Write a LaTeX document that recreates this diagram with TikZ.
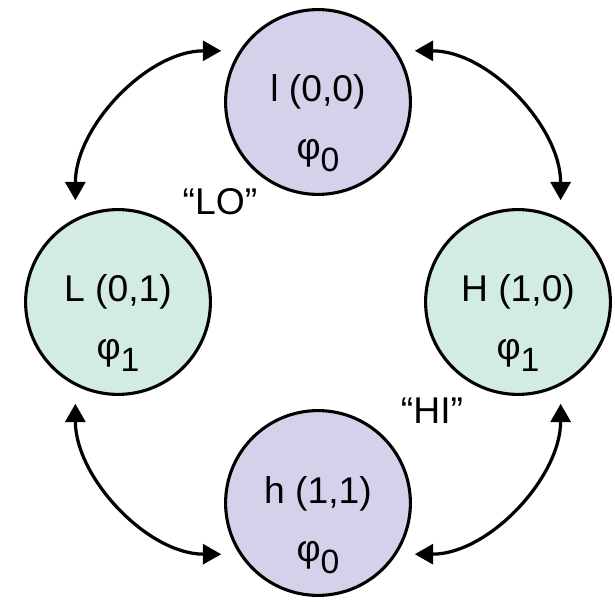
\documentclass[tikz,border=0pt]{standalone}
\usepackage{fontspec}
\setmainfont{Liberation Sans}
\usetikzlibrary{arrows.meta}
\definecolor{lilla}{RGB}{214,208,234}
\definecolor{verdino}{RGB}{210,236,225}
\newcommand{\pedice}[1]{\raisebox{-0.3cm}{\fontsize{24}{24}\selectfont #1}}
\begin{document}
\begin{tikzpicture}[every node/.style={font=\fontsize{26.5}{30}\selectfont},
		stato/.style={circle, draw, line width=2.2pt, minimum size=4.62cm, inner sep=0pt},
		testo/.style={anchor=base, inner sep=0pt},
		freccia/.style={line width=2.3pt, >={Triangle[length=4.6mm, width=5mm]}, <->, shorten <=0.45cm, shorten >=0.45cm}]
	\useasboundingbox (0,0) rectangle (15.375,15.025);
	
	% Stati
	\node[stato, fill=lilla] (l00) at (7.95,12.475) {};
	\node[stato, fill=verdino] (L01) at (2.95,7.475) {};
	\node[stato, fill=verdino] (H10) at (12.95,7.475) {};
	\node[stato, fill=lilla] (h11) at (7.95,2.45) {};
	
	% Etichette degli stati
	\node[testo] (l00t) at (l00.center) {l (0,0)};
	\node[testo] (l00p) at ([yshift=-1.45cm]l00.center) {φ\pedice{0}};
	\node[testo] (L01t) at (L01.center) {L (0,1)};
	\node[testo] (L01p) at ([yshift=-1.45cm]L01.center) {φ\pedice{1}};
	\node[testo] (H10t) at (H10.center) {H (1,0)};
	\node[testo] (H10p) at ([yshift=-1.45cm]H10.center) {φ\pedice{1}};
	\node[testo] (h11t) at (h11.center) {h (1,1)};
	\node[testo] (h11p) at ([yshift=-1.45cm]h11.center) {φ\pedice{0}};
	
	% Livelli
	\node[testo] (lo) at (5.5,9.65) {“LO”};
	\node[testo] (hi) at (10.8,4.45) {“HI”};
	
	% Transizioni
	\draw[freccia] (l00.147) to[out=180, in=90] (L01.117);
	\draw[freccia] (l00.33) to[out=0, in=90] (H10.63);
	\draw[freccia] (L01.243) to[out=270, in=180] (h11.213);
	\draw[freccia] (H10.297) to[out=270, in=0] (h11.327);
\end{tikzpicture}
\end{document}
